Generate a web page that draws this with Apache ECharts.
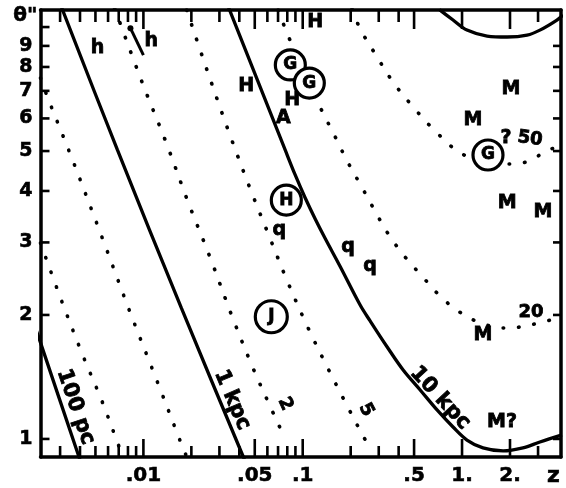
<!DOCTYPE html>
<html><head><meta charset="utf-8">
<script src="https://cdn.jsdelivr.net/npm/echarts@6/dist/echarts.min.js"></script>
<style>html,body{margin:0;padding:0;background:#fff}#c{width:566px;height:488px}</style>
</head><body><div id="c"></div>
<script>
// ---- axis ranges / ticks ----
const X_MIN = 0.00226, X_MAX = 4.18;
const Y_MIN = 0.904, Y_MAX = 11.0;
const xMinorTicks = [0.003,0.004,0.005,0.006,0.007,0.008,0.009,0.02,0.03,0.04,0.06,0.07,0.08,0.09,0.2,0.3,0.4,3];
const xMajorTicks = [0.01,0.05,0.1,0.5,1,2];
const xLabelVals  = [0.01,0.05,0.1,0.5,1,2];
const xLabelText  = ['.01','.05','.1','.5','1.','2.'];
const yTicksLeft  = [1,2,3,4,5,6,7,8,9,10];
const yTicksRight = [1,2,3,4,5,6,7,8,9];
const yLabelVals  = [1,2,3,4,5,6,7,8,9];

// ---- curves [z, theta"] ----
const pc100  = [[0.0021,1.86],[0.00223,1.74],[0.0039,0.915],[0.0041,0.868]];
const kpc1   = [[0.0030,11.4],[0.00687,5.03],[0.0173,2.08],[0.0424,0.904],[0.044,0.873]];
const kpc10  = [[0.0335,11.4],[0.0776,5.03],[0.0897,4.374],[0.1037,3.846],[0.1198,3.42],[0.1384,3.066],[0.1718,2.623],[0.2293,2.114],[0.265,1.934],[0.339,1.672],[0.427,1.47],[0.546,1.315],[0.697,1.176],[0.878,1.069],[1.074,0.994],[1.354,0.951],[1.81,0.935],[2.41,0.951],[3.08,0.983],[4.24,1.023]];
const kpc100 = [[0.72,11.05],[0.728,10.99],[0.878,10.4],[1.074,9.83],[1.436,9.51],[1.92,9.46],[2.56,9.56],[3.08,9.83],[3.94,10.4],[4.3,10.7]];
const pc200  = [[0.00226,2.99],[0.0031,2.14],[0.00421,1.58],[0.00546,1.243],[0.00697,0.967],[0.0075,0.899]];
const pc500  = [[0.00226,7.52],[0.0025,6.76],[0.00359,4.76],[0.00553,3.07],[0.00829,2.02],[0.01225,1.375],[0.01683,1.0],[0.0186,0.909]];
const kpc2   = [[0.0066,11.1],[0.00986,7.31],[0.01393,5.23],[0.01888,3.80],[0.0263,2.75],[0.0361,1.98],[0.049,1.479],[0.0635,1.183],[0.0744,1.034],[0.077,0.99]];
const kpc5   = [[0.0187,11.0],[0.0252,7.82],[0.0351,5.44],[0.0469,4.04],[0.0608,3.146],[0.08,2.418],[0.1067,1.88],[0.1445,1.479],[0.1846,1.23],[0.2393,1.017],[0.265,0.951]];
const kpc20  = [[0.0702,11.0],[0.0811,9.51],[0.125,6.54],[0.16,5.41],[0.19,4.73],[0.233,4.11],[0.277,3.64],[0.344,3.146],[0.439,2.765],[0.553,2.5],[0.728,2.223],[0.944,2.045],[1.26,1.923],[1.81,1.86],[2.31,1.87],[3.22,1.923],[4.24,1.98]];
const kpc50  = [[0.204,11.06],[0.2297,9.89],[0.293,8.46],[0.369,7.35],[0.493,6.4],[0.658,5.66],[0.972,4.95],[1.39,4.73],[1.94,4.65],[2.38,4.677],[2.79,4.78],[3.46,5.03],[4.24,5.12]];

// ---- object symbols (letters) ----
const markText  = ['h','h','H','H','H','A','q','q','q','M','M','M','M','M','M?','?'];
const markZ     = [0.00515,0.01122,0.1197,0.04425,0.0859,0.0755,0.0713,0.1928,0.265,2.03,1.17,1.92,3.22,1.354,1.78,1.89];
const markTheta = [8.89,9.25,10.28,7.19,6.65,6.01,3.22,2.92,2.63,7.07,5.95,3.74,3.56,1.788,1.10,5.38];
// circled symbols
const circText  = ['G','G','H','J','G'];
const circZ     = [0.0836,0.110,0.0789,0.0635,1.455];
const circTheta = [8.09,7.31,3.80,1.98,4.89];
// short bar attached to an 'h'
const hBar = [[0.00829,9.94],[0.01,8.55]];
// curve labels
const curveLabText  = ['100 pc','1 kpc','2','5','10 kpc','20','50'];
const curveLabZ     = [0.00375,0.0361,0.0776,0.25,0.728,2.71,2.67];
const curveLabTheta = [1.196,1.243,1.216,1.176,1.257,2.03,5.35];
const curveLabRot   = [-71,-67,-65,-62,-47,0,-8];

const FONT = 'DejaVu Sans';
const chart = echarts.init(document.getElementById('c'));

function curve(data, dotted) {
  return {type:'line', data, showSymbol:false, smooth:0.35, silent:true, z:2,
    lineStyle: dotted ? {color:'#000', width:3.6, type:[0.5,15], cap:'round'}
                      : {color:'#000', width:3.3}};
}
const labelBase = {show:true, position:'inside', color:'#000', fontFamily:FONT, fontWeight:'bold',
  textBorderColor:'#000', textBorderWidth:0.8, opacity:1};

// tick marks drawn through the axes' own scales
function tickSeries(vals, side, len) {
  const isX = side === 'bottom' || side === 'top';
  return {type:'custom', silent:true, z:6, clip:false,
    data: vals.map(v => isX ? [v, side==='bottom'?Y_MIN:Y_MAX] : [side==='left'?X_MIN:X_MAX, v]),
    renderItem: (params, api) => {
      const p = api.coord([api.value(0), api.value(1)]);
      let shape;
      if (side==='bottom') shape = {x1:p[0], y1:p[1], x2:p[0], y2:p[1]-len};
      else if (side==='top') shape = {x1:p[0], y1:p[1], x2:p[0], y2:p[1]+len};
      else if (side==='left') shape = {x1:p[0], y1:p[1], x2:p[0]+len, y2:p[1]};
      else shape = {x1:p[0], y1:p[1], x2:p[0]-len, y2:p[1]};
      return {type:'line', shape, style:{stroke:'#000', lineWidth:2.6}};
    }};
}

const series = [
  curve(pc100,false), curve(kpc1,false), curve(kpc10,false), curve(kpc100,false),
  curve(pc200,true), curve(pc500,true), curve(kpc2,true), curve(kpc5,true), curve(kpc20,true), curve(kpc50,true),
  {type:'line', data:[{value:hBar[0], symbol:'circle', symbolSize:6},{value:hBar[1], symbol:'none'}],
    showSymbol:true, itemStyle:{color:'#000', opacity:1}, lineStyle:{color:'#000', width:3}, z:3, silent:true},
  {type:'scatter', z:4, silent:true, symbolSize:1, itemStyle:{color:'rgba(0,0,0,0)', opacity:1},
    data: markText.map((t,i)=>({value:[markZ[i],markTheta[i]], label:{...labelBase, formatter:t, fontSize:19}}))},
  {type:'scatter', z:5, silent:true, symbol:'circle',
    itemStyle:{color:'#fff', borderColor:'#000', borderWidth:3.2, opacity:1},
    data: circText.map((t,i)=>({value:[circZ[i],circTheta[i]], symbolSize: i===3?32:30,
      label:{...labelBase, formatter:t, fontSize:17}}))},
  {type:'scatter', z:4, silent:true, symbolSize:1, itemStyle:{color:'rgba(0,0,0,0)', opacity:1},
    data: curveLabText.map((t,i)=>({value:[curveLabZ[i],curveLabTheta[i]],
      label:{...labelBase, formatter:t, fontSize: (i===0||i===1||i===4)?21:18, rotate:curveLabRot[i]}}))},
  tickSeries(xMinorTicks,'bottom',11), tickSeries(xMajorTicks,'bottom',18),
  tickSeries(xMinorTicks,'top',12), tickSeries(xMajorTicks,'top',19),
  tickSeries(yTicksLeft,'left',9), tickSeries(yTicksRight,'right',8)
];

const axisText = {color:'#000', fontFamily:FONT, fontWeight:'bold', textBorderColor:'#000', textBorderWidth:0.6};
const xAxes = [
  {type:'log', logBase:10, min:X_MIN, max:X_MAX, position:'bottom', splitLine:{show:false},
   axisLine:{show:true, lineStyle:{color:'#000', width:3.5}}, axisTick:{show:false},
   axisLabel:{show:true, customValues:xLabelVals, margin:9, ...axisText, fontSize:20,
     formatter: v => { let k=0, best=1e9; xLabelVals.forEach((u,j)=>{const d=Math.abs(Math.log(u)-Math.log(v)); if(d<best){best=d;k=j;}}); return xLabelText[k]; }},
   name:'z', nameLocation:'end', nameGap:-14,
   nameTextStyle:{...axisText, fontSize:22, align:'left', verticalAlign:'top', padding:[8,0,0,0]}},
  {type:'log', logBase:10, min:X_MIN, max:X_MAX, position:'top', splitLine:{show:false},
   axisLine:{show:true, lineStyle:{color:'#000', width:3.5}}, axisTick:{show:false}, axisLabel:{show:false}}
];
const yAxes = [
  {type:'log', logBase:10, min:Y_MIN, max:Y_MAX, position:'left', splitLine:{show:false},
   axisLine:{show:true, lineStyle:{color:'#000', width:3.5}}, axisTick:{show:false},
   axisLabel:{show:true, customValues:yLabelVals, margin:8, ...axisText, fontSize:19,
     formatter: v => String(Math.round(v))},
   name:'θ"', nameLocation:'end', nameGap:-16,
   nameTextStyle:{...axisText, fontSize:20, align:'right', verticalAlign:'bottom', padding:[0,3,0,0]}},
  {type:'log', logBase:10, min:Y_MIN, max:Y_MAX, position:'right', splitLine:{show:false},
   axisLine:{show:true, lineStyle:{color:'#000', width:3.5}}, axisTick:{show:false}, axisLabel:{show:false}}
];

chart.setOption({
  animation:false,
  backgroundColor:'#fff',
  grid:{left:40.5, right:5, top:10, bottom:31, containLabel:false},
  xAxis:xAxes, yAxis:yAxes, series
});
</script></body></html>
